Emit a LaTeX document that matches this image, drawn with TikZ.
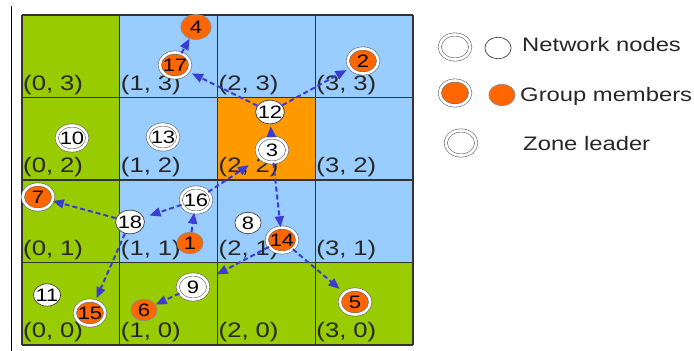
\documentclass[tikz,border=0pt]{standalone}
\usepackage{fontspec}
\setmainfont{Liberation Sans}
\usetikzlibrary{arrows.meta}
\definecolor{cellgreen}{HTML}{99CC00}
\definecolor{cellblue}{HTML}{99CCFF}
\definecolor{cellorange}{HTML}{FF9900}
\definecolor{memberorange}{HTML}{FF6600}
\definecolor{pathblue}{HTML}{3B3BD6}

\begin{document}
\begin{tikzpicture}[x=1pt, y=-1pt,
  hstretch/.style={xscale=1.22},
  plainnode/.style={circle, draw=black!75, line width=0.7pt, fill=white, minimum size=21.5pt, inner sep=0pt, font=\fontsize{18pt}{18pt}\selectfont, hstretch},
  ringnode/.style={plainnode, draw=black!60, double=white, double distance=2.6pt, line width=0.6pt, minimum size=25pt},
  membernode/.style={plainnode, fill=memberorange, draw=black!45},
  ringmember/.style={ringnode, fill=memberorange},
  coordlabel/.style={anchor=base west, inner sep=0pt, font=\fontsize{21pt}{21pt}\selectfont, text=black!85, hstretch},
  legendtext/.style={anchor=west, inner sep=0pt, font=\fontsize{19.5pt}{19.5pt}\selectfont, text=black!85, hstretch},
  gridline/.style={draw=black!80, line width=1.1pt},
  arrow/.style={-{Triangle[length=11pt, width=9pt]}, pathblue, line width=2pt, dash pattern=on 5pt off 3pt}]
\useasboundingbox (0,0) rectangle (694,351);

% zones
\fill[cellblue] (22,15) rectangle (413,345);
\fill[cellgreen] (22,15) rectangle (120,345);
\fill[cellgreen] (120,263) rectangle (413,345);
\fill[cellorange] (218,98) rectangle (315,181);
\foreach \k in {0,...,4} {
  \draw[gridline] ({22+97.75*\k},15) -- ({22+97.75*\k},345);
  \draw[gridline] (22,{15+82.5*\k}) -- (413,{15+82.5*\k});
}
\draw[line width=0.9pt] (11,6) -- (11,351);
\foreach \i in {0,...,3}
  \foreach \j in {0,...,3}
    \node[coordlabel] (z\i\j) at ({23+97.75*\i},{15+82.5*(4-\j)-7.5}) {(\i, \j)};

% nodes
\node[membernode, minimum size=25pt] (n4) at (196,27) {4};
\node[ringmember] (n17) at (175,65) {17};
\node[ringnode] (n10) at (72,138) {10};
\node[ringnode] (n13) at (163,137) {13};
\node[plainnode] (n12) at (270,112) {12};
\node[ringnode] (n3) at (272,150) {3};
\node[ringmember] (n2) at (363,61) {2};
\node[ringmember] (n7) at (38,197) {7};
\node[plainnode] (n18) at (130,222) {18};
\node[ringnode] (n16) at (196,200) {16};
\node[membernode] (n1) at (190,243) {1};
\node[plainnode] (n11) at (47,295) {11};
\node[ringmember] (n15) at (90,313) {15};
\node[membernode] (n6) at (144,310) {6};
\node[ringnode] (n9) at (193,287) {9};
\node[plainnode] (n8) at (248,223) {8};
\node[ringmember] (n14) at (282,240) {14};
\node[ringmember] (n5) at (355,302) {5};

% forwarding paths
\draw[arrow] (n1) -- (n16);
\draw[arrow, shorten >=13pt] (n16) -- (n3);
\draw[arrow, shorten >=6pt] (n16) -- (n18);
\draw[arrow] (n18) -- (n7);
\draw[arrow, shorten >=3pt] (n18) -- (n15);
\draw[arrow, shorten >=2pt] (n3) -- (n12);
\draw[arrow, shorten >=4pt] (n12) -- (n17);
\draw[arrow, shorten >=4pt] (n12) -- (n2);
\draw[arrow] (n17) -- (n4);
\draw[arrow] (n3) -- (n14);
\draw[arrow, shorten >=6pt] (n14) -- (n5);
\draw[arrow, shorten >=12pt] (n14) -- (n9);
\draw[arrow] (n9) -- (n6);

% legend
\node[ringnode] (lgnet) at (455,47) {};
\node[plainnode] (lgnetsmall) at (498,48) {};
\node[legendtext] (lgnettext) at (522,45) {Network nodes};
\node[ringmember] (lgmem) at (455,93) {};
\node[membernode] (lgmemsmall) at (502,95) {};
\node[legendtext] (lgmemtext) at (520,96) {Group members};
\node[ringnode] (lglead) at (461,143) {};
\node[legendtext] (lgleadtext) at (523,144) {Zone leader};
\end{tikzpicture}
\end{document}
